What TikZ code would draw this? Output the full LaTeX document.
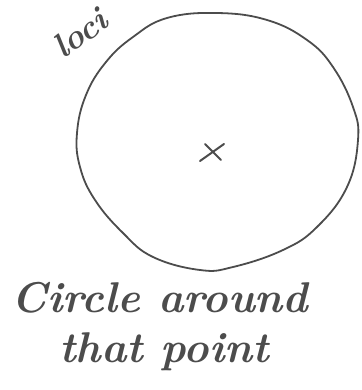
\documentclass[tikz,border=0pt]{standalone}
\usepackage{fontspec}
\usetikzlibrary{calc}
\begin{document}
\begin{tikzpicture}[x=1pt,y=-1pt,
  ink/.style={draw=black!70,line width=1.8pt,line cap=round,line join=round},
  hand/.style={text=black!70,font=\itshape}]
\useasboundingbox (0,0) rectangle (361,390);
% locus circle
\draw[ink] plot[smooth cycle,tension=0.7] coordinates {
  (77,133) (80,167) (95,200) (123,233) (153,257) (200,270) (233,267)
  (283,250) (317,227) (347,187) (358,140) (353,107) (333,67) (307,40)
  (267,20) (217,13) (167,18) (133,37) (106,62) (86,95)};
% centre point
\coordinate (c) at (212,152);
\draw[ink,line width=2pt] ($(c)+(-12,9)$) -- ($(c)+(12,-8)$);
\draw[ink,line width=2pt] ($(c)+(-7,-8)$) -- ($(c)+(9,8)$);
% labels
\node[hand,rotate=36,font=\fontsize{34}{40}\selectfont\bfseries\itshape] (loci) at (80,33) {loci};
\node[hand,font=\fontsize{43}{50}\selectfont\bfseries\itshape] (l1) at (160,298) {Circle around};
\node[hand,font=\fontsize{43}{50}\selectfont\bfseries\itshape] (l2) at (164,352) {that point};
\end{tikzpicture}
\end{document}
